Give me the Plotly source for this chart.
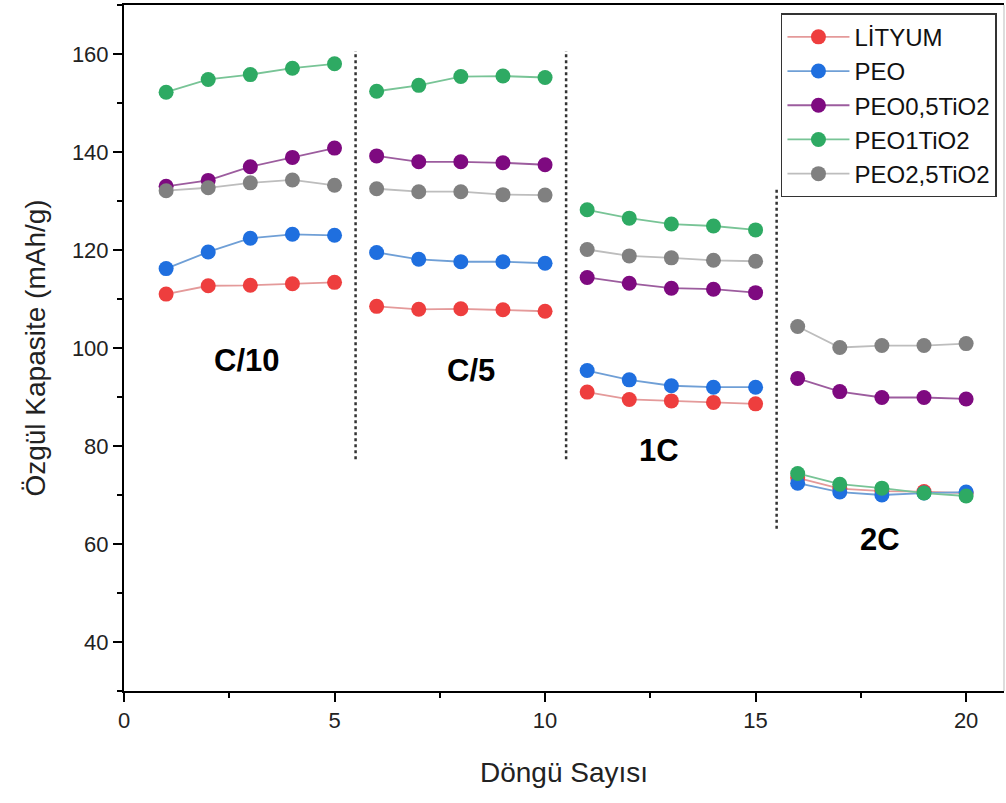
import plotly.graph_objects as go

# Cycle numbers and C-rate blocks (5 cycles per rate)
cycles = list(range(1, 21))
block_size = 5
rate_labels = ["C/10", "C/5", "1C", "2C"]
rate_label_x = [2.9, 8.25, 12.7, 17.95]
rate_label_y = [97.5, 95.5, 79.0, 61.0]

# Rate boundaries drawn as dotted separators: (x, y_start, y_end)
separators = [(5.5, 77.3, 160.6), (10.5, 77.3, 160.6), (15.5, 63.1, 132.4)]

# Specific capacity (mAh/g) per cycle
lityum = [111.0, 112.7, 112.8, 113.1, 113.4,
          108.5, 107.9, 108.0, 107.8, 107.5,
          91.0, 89.5, 89.2, 88.9, 88.6,
          73.5, 71.3, 70.8, 70.7, 70.4]
peo = [116.2, 119.6, 122.4, 123.2, 123.0,
       119.5, 118.1, 117.6, 117.6, 117.3,
       95.4, 93.5, 92.3, 92.0, 92.0,
       72.4, 70.6, 70.0, 70.4, 70.6]
peo_05tio2 = [133.0, 134.2, 137.0, 138.9, 140.8,
              139.2, 138.0, 138.0, 137.8, 137.4,
              114.4, 113.2, 112.2, 112.0, 111.3,
              93.8, 91.1, 89.9, 89.9, 89.6]
peo_1tio2 = [152.2, 154.8, 155.8, 157.1, 158.0,
             152.4, 153.6, 155.4, 155.5, 155.2,
             128.2, 126.5, 125.3, 124.9, 124.1,
             74.4, 72.2, 71.4, 70.4, 69.8]
peo_25tio2 = [132.1, 132.7, 133.7, 134.3, 133.2,
              132.5, 131.9, 131.9, 131.3, 131.2,
              120.1, 118.8, 118.4, 117.9, 117.7,
              104.4, 100.1, 100.5, 100.5, 100.9]

series = [
    ("LİTYUM", lityum, "#EE3E3E", "#E49A9A"),
    ("PEO", peo, "#1F6FDF", "#6F9FD6"),
    ("PEO0,5TiO2", peo_05tio2, "#7E0A80", "#9C5C9E"),
    ("PEO1TiO2", peo_1tio2, "#2EAA63", "#78C496"),
    ("PEO2,5TiO2", peo_25tio2, "#808080", "#BDBDBD"),
]


def with_gaps(values):
    """Insert a break after every rate block so lines don't join blocks."""
    out = []
    for i, v in enumerate(values):
        out.append(v)
        if (i + 1) % block_size == 0 and i + 1 < len(values):
            out.append(None)
    return out


fig = go.Figure()
for idx, (name, vals, mcol, lcol) in enumerate(series):
    fig.add_trace(go.Scatter(
        x=with_gaps(cycles), y=with_gaps(vals),
        mode="lines+markers", name=name,
        legendgroup=f"g{idx}",
        connectgaps=False,
        line=dict(color=lcol, width=1.8),
        marker=dict(color=mcol, size=15, symbol="circle",
                    line=dict(color=mcol, width=0)),
    ))

for sx, sy0, sy1 in separators:
    fig.add_shape(type="line", xref="x", yref="y",
                  x0=sx, x1=sx, y0=sy0, y1=sy1,
                  line=dict(color="#333333", width=2.5, dash="dot"))

font_family = "Liberation Sans, Arial"

for lab, lx, ly in zip(rate_labels, rate_label_x, rate_label_y):
    fig.add_annotation(x=lx, y=ly, xref="x", yref="y", text=f"<b>{lab}</b>",
                       showarrow=False,
                       font=dict(family=font_family, size=31, color="black"))

# thin light edge on the right side of the frame
fig.add_shape(type="line", xref="paper", yref="paper", x0=1, x1=1, y0=0, y1=1,
              line=dict(color="#BBBBBB", width=1))

fig.update_layout(
    width=1006, height=803,
    margin=dict(l=124, r=2, t=5, b=112),
    paper_bgcolor="white", plot_bgcolor="white",
    font=dict(family=font_family, color="#222222"),
    showlegend=True,
    legend=dict(
        x=0.992, y=0.988, xanchor="right", yanchor="top",
        bgcolor="white", bordercolor="#333333", borderwidth=1.5,
        font=dict(family=font_family, size=24, color="#111111"),
        traceorder="grouped", tracegroupgap=0,
        itemwidth=62,
    ),
    xaxis=dict(
        range=[0, 20.9], tick0=0, dtick=5,
        showline=True, linecolor="black", linewidth=2, mirror=True,
        ticks="outside", ticklen=9, tickwidth=1.5, tickcolor="black",
        minor=dict(ticks="outside", ticklen=5, tickwidth=1.5, tickcolor="black", dtick=2.5),
        showgrid=False, zeroline=False,
        tickfont=dict(family=font_family, size=22, color="#222222"),
        title=dict(text="Döngü Sayısı", standoff=30,
                   font=dict(family=font_family, size=28, color="#222222")),
    ),
    yaxis=dict(
        range=[30, 170], tick0=0, dtick=20,
        showline=True, linecolor="black", linewidth=2,
        ticks="outside", ticklen=9, tickwidth=1.5, tickcolor="black",
        minor=dict(ticks="outside", ticklen=5, tickwidth=1.5, tickcolor="black", dtick=10),
        showgrid=False, zeroline=False,
        tickfont=dict(family=font_family, size=22, color="#222222"),
        title=dict(text="Özgül Kapasite (mAh/g)", standoff=18,
                   font=dict(family=font_family, size=28, color="#222222")),
    ),
)

fig.write_html("out.html")
